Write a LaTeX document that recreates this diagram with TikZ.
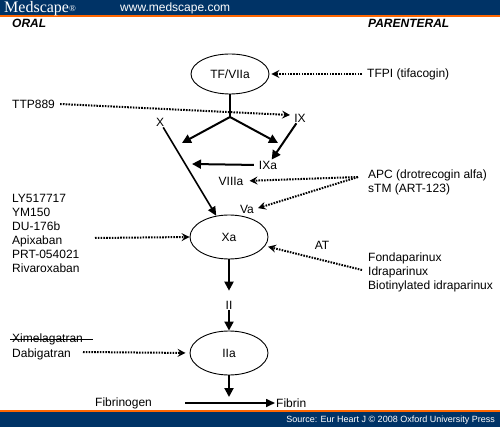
\documentclass[tikz,border=0pt]{standalone}
\usepackage{fontspec}
\setmainfont{Liberation Sans}
\newfontfamily\hdrserif{Liberation Serif}
\usetikzlibrary{arrows.meta,shapes.geometric}
\definecolor{msblue}{RGB}{0,51,102}
\definecolor{msorange}{RGB}{255,102,0}
\tikzset{
  lbl/.style={inner sep=1pt,font=\fontsize{12}{14}\selectfont},
  lst/.style={inner sep=0pt,align=left,anchor=west,font=\fontsize{12}{14}\selectfont},
  factor/.style={ellipse,draw,line width=0.9pt,minimum width=78pt,minimum height=44pt,inner sep=0pt,font=\fontsize{12}{14}\selectfont},
  inhib/.style={line width=2pt,dash pattern=on 1.6pt off 1.2pt,-{Stealth[length=8pt,width=8pt,inset=3pt]}},
  act/.style={line width=2pt,-{Triangle[length=9pt,width=9pt]}},
  head/.style={font=\fontsize{12}{14}\selectfont\bfseries\itshape,inner sep=0pt}
}
\begin{document}
\begin{tikzpicture}[x=1pt,y=-1pt]
\useasboundingbox (0,0) rectangle (500,427);
% header and footer bars
\fill[msblue] (0,0) rectangle (500,15);
\fill[msorange] (0,15) rectangle (500,17.5);
\fill[msorange] (0,409.5) rectangle (500,412);
\fill[msblue] (0,412) rectangle (500,427);
\node[anchor=base west,text=white,inner sep=0pt,font=\hdrserif\fontsize{16}{16}\selectfont] (brand) at (4,12.5) {Medscape{\fontsize{9}{9}\selectfont\raisebox{1pt}{®}}};
\node[anchor=base west,text=white,inner sep=0pt,font=\fontsize{12}{12}\selectfont] (url) at (120,12) {www.medscape.com};
\node[anchor=east,text=white,inner sep=0pt,font=\fontsize{9}{9}\selectfont] (src) at (495,420) {Source: Eur Heart J © 2008 Oxford University Press};
% column headings
\node[head,anchor=west] (oral) at (12,23) {ORAL};
\node[head,anchor=west] (par) at (368,23) {PARENTERAL};
% factors
\node[factor,minimum height=40pt] (tf) at (230,74) {TF/VIIa};
\node[factor] (xa) at (229,237) {Xa};
\node[factor] (iia) at (229,353) {IIa};
\node[lbl] (ix) at (300,118) {IX};
\node[lbl] (x) at (160,122) {X};
\node[lbl] (ixa) at (268,165) {IXa};
\node[lbl] (viiia) at (231,181) {VIIIa};
\node[lbl] (va) at (247,209) {Va};
\node[lbl] (at) at (322,245) {AT};
\node[lbl] (ii) at (229,305) {II};
\node[lbl,anchor=west] (fgn) at (94,403) {Fibrinogen};
\node[lbl,anchor=west] (fib) at (275,403) {Fibrin};
% drugs
\node[lst] (tfpi) at (367,74) {TFPI (tifacogin)};
\node[lst] (ttp) at (12,104) {TTP889};
\node[lst] (apc) at (368,175) {APC (drotrecogin alfa)};
\node[lst] (stm) at (368,189) {sTM (ART-123)};
\node[lst] (xadrugs) at (12,233) {LY517717\\YM150\\DU-176b\\Apixaban\\PRT-054021\\Rivaroxaban};
\node[lst] (fonda) at (368,272) {Fondaparinux\\Idraparinux\\Biotinylated idraparinux};
\node[lst] (ximel) at (12,339) {Ximelagatran};
\node[lst] (dabi) at (12,354) {Dabigatran};
\draw[line width=1pt] ([xshift=-2pt]ximel.west) -- ++(83,0);
% coordinates
\coordinate (j) at (230,117);
\coordinate (jl) at (182,143);
\coordinate (jr) at (278,143);
\coordinate (ixaend) at (192,164);
\coordinate (ttpend) at (290,115);
\coordinate (apcs) at (358,177);
\coordinate (xastart) at (95,238);
\coordinate (atstart) at (362,270);
\coordinate (dabistart) at (83,352);
\coordinate (iiaend) at (229,397);
\coordinate (fstart) at (185,403);
% activation arrows
\draw[line width=2pt] (tf.south) -- (j);
\draw[act] (j) -- (jl);
\draw[act] (j) -- (jr);
\draw[act] (ix) -- (ixa);
\draw[act,shorten <=4pt] (ixa.west) -- (ixaend);
\draw[line width=1.6pt,-{Triangle[length=9pt,width=8pt]}] (x) -- (xa);
\draw[act,shorten >=9pt] (xa.south) -- (ii.north);
\draw[act] (ii.south) -- (iia.north);
\draw[act] (iia.south) -- (iiaend);
\draw[line width=1.6pt,-{Triangle[length=9pt,width=8pt]}] (fstart) -- (fib.west);
% inhibition arrows
\draw[inhib,shorten >=2pt] ([xshift=-5pt]tfpi.west) -- (tf.east);
\draw[inhib] ([xshift=5pt]ttp.east) -- (ttpend);
\draw[inhib,shorten >=5pt] (apcs) -- (viiia.east);
\draw[inhib,shorten >=3pt] (apcs) -- (va.east);
\draw[inhib] (xastart) -- (xa.west);
\draw[inhib,shorten >=3pt] (atstart) -- (xa);
\draw[inhib,shorten >=4pt] (dabistart) -- (iia.west);
\end{tikzpicture}
\end{document}
